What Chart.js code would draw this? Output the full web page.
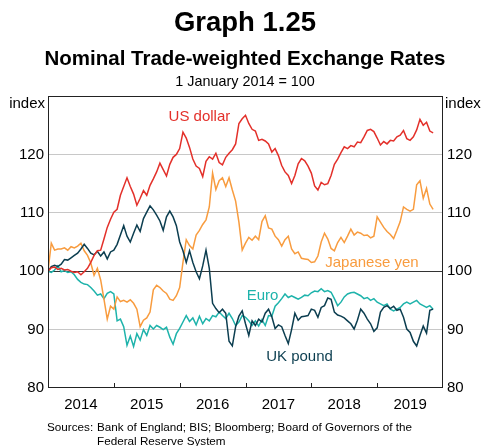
<!DOCTYPE html>
<html>
<head>
<meta charset="utf-8">
<script src="https://cdn.jsdelivr.net/npm/chart.js@4"></script>
<style>
body { margin: 0; background: #fff; font-family: "Liberation Sans", Arial, sans-serif; color: #000; }
#wrap { position: relative; width: 483px; height: 446px; overflow: hidden; }
canvas { position: absolute; left: 0; top: 0; }
.t { position: absolute; left: 0; width: 490px; text-align: center; line-height: 1; white-space: nowrap; }
.src { position: absolute; font-size: 11.7px; line-height: 14px; white-space: nowrap; }
</style>
</head>
<body>
<div id="wrap">
  <canvas id="myChart" width="483" height="446"></canvas>
  <div class="t" style="top:8px;font-size:27.5px;font-weight:bold">Graph 1.25</div>
  <div class="t" style="top:48px;font-size:20.5px;font-weight:bold">Nominal Trade-weighted Exchange Rates</div>
  <div class="t" style="top:74px;font-size:14.4px">1 January 2014 = 100</div>
  <div class="src" style="left:47px;top:420px">Sources:</div>
  <div class="src" style="left:97px;top:420px">Bank of England; BIS; Bloomberg; Board of Governors of the<br>Federal Reserve System</div>
</div>
<script>
// decimal years, roughly every 2.5 weeks
var dates = [
    2014.00, 2014.05, 2014.10, 2014.15, 2014.20, 2014.25, 2014.30, 2014.35, 2014.40, 2014.45,
    2014.50, 2014.55, 2014.60, 2014.65, 2014.70, 2014.75, 2014.80, 2014.85, 2014.90, 2014.95,
    2015.00, 2015.05, 2015.10, 2015.15, 2015.20, 2015.25, 2015.30, 2015.35, 2015.40, 2015.45,
    2015.50, 2015.55, 2015.60, 2015.65, 2015.70, 2015.75, 2015.80, 2015.85, 2015.90, 2015.95,
    2016.00, 2016.05, 2016.10, 2016.15, 2016.20, 2016.25, 2016.30, 2016.35, 2016.40, 2016.45,
    2016.50, 2016.55, 2016.60, 2016.65, 2016.70, 2016.75, 2016.80, 2016.85, 2016.90, 2016.95,
    2017.00, 2017.05, 2017.10, 2017.15, 2017.20, 2017.25, 2017.30, 2017.35, 2017.40, 2017.45,
    2017.50, 2017.55, 2017.60, 2017.65, 2017.70, 2017.75, 2017.80, 2017.85, 2017.90, 2017.95,
    2018.00, 2018.05, 2018.10, 2018.15, 2018.20, 2018.25, 2018.30, 2018.35, 2018.40, 2018.45,
    2018.50, 2018.55, 2018.60, 2018.65, 2018.70, 2018.75, 2018.80, 2018.85, 2018.90, 2018.95,
    2019.00, 2019.05, 2019.10, 2019.15, 2019.20, 2019.25, 2019.30, 2019.35, 2019.40, 2019.45,
    2019.50, 2019.55, 2019.60, 2019.65, 2019.70, 2019.75, 2019.80, 2019.85
];

var usDollar = [
    100.0, 100.6, 100.7, 100.3, 100.5, 100.2, 100.3, 100.0, 99.8, 99.9,
    99.4, 99.9, 100.5, 101.5, 102.7, 103.5, 103.6, 105.5, 107.5, 108.9,
    110.1, 110.6, 113.0, 114.5, 116.0, 114.5, 113.2, 111.3, 112.5, 113.8,
    113.0, 114.7, 115.8, 117.0, 118.5, 117.4, 116.3, 118.3, 119.5, 120.0,
    121.0, 123.8, 122.8, 121.2, 119.2, 118.0, 117.6, 116.2, 118.8, 119.6,
    119.2, 120.2, 118.6, 118.2, 119.5, 120.2, 120.8, 121.8, 125.3, 126.1,
    126.7, 125.3, 124.3, 124.0, 122.4, 122.6, 122.3, 121.8, 120.4, 121.0,
    119.8, 118.1, 117.0, 116.4, 115.0, 116.4, 118.4, 119.3, 118.9, 118.0,
    116.8, 114.6, 113.9, 115.2, 114.8, 115.0, 116.4, 118.3, 119.2, 120.3,
    121.3, 121.0, 121.5, 121.3, 122.1, 122.0, 123.0, 124.1, 124.3, 123.9,
    122.8, 121.6, 122.2, 121.8, 122.4, 122.3, 123.0, 123.3, 124.1, 122.7,
    122.4, 123.0, 124.2, 126.0, 125.0, 125.5, 124.0, 123.7
];

var ukPound = [
    100.0, 100.8, 101.0, 100.8, 101.2, 102.0, 101.9, 102.3, 102.7, 103.1,
    103.8, 104.6, 103.9, 103.1, 102.8, 103.4, 102.6, 103.3, 102.1, 103.3,
    103.6, 104.6, 106.2, 107.8, 106.0, 105.0, 106.5, 107.9, 106.8, 109.0,
    110.1, 111.2, 110.5, 109.6, 108.6, 107.0, 109.3, 110.3, 109.3, 107.8,
    105.0, 103.5, 101.5, 103.5, 101.5, 99.9, 98.7, 100.9, 103.6, 100.5,
    94.5, 93.6, 92.9, 93.5, 92.8, 88.0, 87.2, 90.5, 92.3, 93.2,
    91.0, 89.0, 91.5, 90.7, 91.8, 91.3, 92.8, 93.5, 92.2, 90.2,
    90.8, 90.5, 89.0, 87.6, 90.0, 92.8, 91.6, 92.2, 92.3, 92.4,
    93.5, 93.3, 92.1, 93.8, 94.1, 95.4, 95.2, 93.0, 92.5, 92.3,
    92.0, 91.5, 91.0, 90.1, 91.6, 93.5, 92.8, 91.8, 91.0, 89.7,
    90.3, 93.0, 93.8, 94.1, 93.6, 94.0, 93.3, 93.5, 92.1, 90.1,
    89.5, 88.0, 87.2, 89.0, 90.6, 89.4, 93.3, 93.5
];

var japaneseYen = [
    100.0, 104.8, 103.6, 103.8, 103.8, 104.0, 103.6, 104.2, 104.0, 104.3,
    104.8, 103.5, 102.7, 101.4, 99.3, 100.5, 98.5, 95.2, 91.8, 94.0,
    93.5, 95.6, 94.8, 95.0, 94.7, 95.1, 94.5, 93.5, 90.5, 91.6,
    92.0, 93.0, 96.8, 97.6, 97.2, 96.6, 96.2, 95.2, 95.0, 95.8,
    97.2, 101.5, 105.4, 104.4, 103.8, 106.2, 107.0, 108.0, 108.8, 111.0,
    116.8, 114.0, 115.5, 116.0, 114.5, 116.0, 113.9, 112.0, 108.4, 103.6,
    104.8, 105.8, 105.3, 106.0, 105.4, 108.5, 109.5, 107.4, 107.2, 106.0,
    105.4, 104.3, 105.4, 106.0, 103.8, 103.0, 103.3, 102.2, 102.1, 102.0,
    101.5, 101.6, 102.6, 105.0, 106.5, 105.5, 103.9, 103.5, 104.9, 105.8,
    104.9, 106.0, 107.2, 106.2, 106.7, 106.5, 106.1, 106.2, 105.7, 106.0,
    109.3, 108.4, 107.5, 106.8, 106.3, 105.6, 107.0, 108.5, 111.0, 110.6,
    110.3, 110.6, 114.8, 115.5, 112.5, 114.2, 111.5, 110.6
];

var euro = [
    100.0, 99.8, 100.2, 100.9, 99.9, 100.1, 99.8, 99.9, 99.4, 98.6,
    98.1, 97.8, 97.7, 97.2, 96.6, 95.9, 96.1, 95.3, 96.2, 96.5,
    96.1, 91.5, 91.8, 90.5, 87.3, 88.9, 87.1, 89.3, 88.2, 90.0,
    89.0, 90.7, 90.1, 90.7, 90.4, 90.0, 90.4, 88.7, 87.5, 89.3,
    90.2, 91.3, 92.4, 91.4, 92.0, 90.8, 92.3, 91.0, 91.9, 91.5,
    92.4, 92.2, 93.0, 92.4, 91.9, 92.8, 91.9, 90.7, 91.3, 92.4,
    92.1, 91.5, 90.7, 91.5, 90.6, 91.7, 90.7, 92.4, 92.3, 94.0,
    94.6, 95.3, 96.1, 95.5, 95.8, 95.5, 95.2, 95.5, 95.9, 95.8,
    96.3, 96.6, 96.5, 97.0, 96.5, 96.7, 96.4, 95.3, 94.1, 94.7,
    95.6, 96.1, 96.3, 96.4, 96.1, 95.8, 95.3, 95.5, 95.0, 95.3,
    94.7, 94.4, 94.1, 94.4, 93.5, 93.2, 93.5, 93.8, 94.4, 94.7,
    94.4, 94.7, 95.0, 94.4, 94.1, 93.8, 94.1, 93.5
];

var seriesNames = ['US dollar', 'UK pound', 'Japanese yen', 'Euro'];
var seriesColors = ['#e3302a', '#0c3e50', '#f89c3f', '#1eb3ab'];
// where each series name sits, in data units (year, index)
var nameX = [2016.30, 2017.82, 2018.92, 2017.26];
var nameY = [126.4, 85.4, 101.4, 95.7];

var yearLabels = ['2014', '2015', '2016', '2017', '2018', '2019'];
var yTicks = [80, 90, 100, 110, 120];

function points(values) {
    return values.map(function (v, i) { return { x: dates[i], y: v }; });
}

var allValues = [usDollar, ukPound, japaneseYen, euro];
var datasets = seriesNames.map(function (name, i) {
    return {
        label: name,
        data: points(allValues[i]),
        borderColor: seriesColors[i],
        borderWidth: 1.5,
        pointRadius: 0,
        tension: 0,
        fill: false
    };
});

var decor = {
    id: 'decor',
    afterDraw: function (chart) {
        var ctx = chart.ctx;
        var a = chart.chartArea;
        var xs = chart.scales.x;
        var ys = chart.scales.y;
        ctx.save();
        // plot frame
        ctx.strokeStyle = '#222';
        ctx.lineWidth = 1;
        ctx.strokeRect(a.left + 0.5, a.top + 0.5, a.right - a.left - 1, a.bottom - a.top - 1);
        // year ticks pointing inwards
        for (var yr = 2015; yr <= 2019; yr++) {
            var px = Math.round(xs.getPixelForValue(yr)) + 0.5;
            ctx.beginPath();
            ctx.moveTo(px, a.bottom);
            ctx.lineTo(px, a.bottom - 5);
            ctx.stroke();
        }
        // axis unit labels
        ctx.fillStyle = '#000';
        ctx.font = '15px "Liberation Sans", Arial, sans-serif';
        ctx.textBaseline = 'middle';
        ctx.textAlign = 'right';
        ctx.fillText('index', a.left - 3, a.top + 8);
        ctx.textAlign = 'left';
        ctx.fillText('index', a.right + 2, a.top + 8);
        // series names
        ctx.textAlign = 'center';
        for (var i = 0; i < seriesNames.length; i++) {
            ctx.fillStyle = seriesColors[i];
            ctx.fillText(seriesNames[i], xs.getPixelForValue(nameX[i]), ys.getPixelForValue(nameY[i]));
        }
        ctx.restore();
    }
};

Chart.defaults.font.family = '"Liberation Sans", Arial, sans-serif';
Chart.defaults.font.size = 15;
Chart.defaults.color = '#000';

var ctx = document.getElementById('myChart').getContext('2d');
var chart = new Chart(ctx, {
    type: 'line',
    data: { datasets: datasets },
    options: {
        responsive: false,
        animation: false,
        layout: { padding: { top: 96, bottom: 28, left: 0, right: 0 } },
        plugins: { legend: { display: false }, tooltip: { enabled: false } },
        scales: {
            x: {
                type: 'linear',
                min: 2014,
                max: 2020,
                afterFit: function (s) { s.height = 30; },
                grid: { display: false, drawTicks: false },
                border: { display: false },
                ticks: {
                    stepSize: 0.5,
                    autoSkip: false,
                    maxRotation: 0,
                    padding: 8,
                    callback: function (v) {
                        var k = Math.floor(v) - 2014;
                        return (v - Math.floor(v) === 0.5) ? yearLabels[k] : '';
                    }
                }
            },
            y: {
                position: 'left',
                min: 80,
                max: 130,
                afterFit: function (s) { s.width = 48; },
                border: { display: false },
                grid: {
                    drawTicks: false,
                    lineWidth: 1,
                    color: function (c) {
                        var v = c.tick.value;
                        if (v === 100) return '#333';
                        if (v === 80 || v === 130) return 'rgba(0,0,0,0)';
                        return '#c8c8c8';
                    }
                },
                ticks: {
                    stepSize: 10,
                    padding: 4,
                    callback: function (v) { return yTicks.indexOf(v) >= 0 ? String(v) : ''; }
                }
            },
            y2: {
                position: 'right',
                min: 80,
                max: 130,
                afterFit: function (s) { s.width = 40; },
                border: { display: false },
                grid: { display: false, drawTicks: false },
                ticks: {
                    stepSize: 10,
                    padding: 4,
                    callback: function (v) { return yTicks.indexOf(v) >= 0 ? String(v) : ''; }
                }
            }
        }
    },
    plugins: [decor]
});
</script>
</body>
</html>
